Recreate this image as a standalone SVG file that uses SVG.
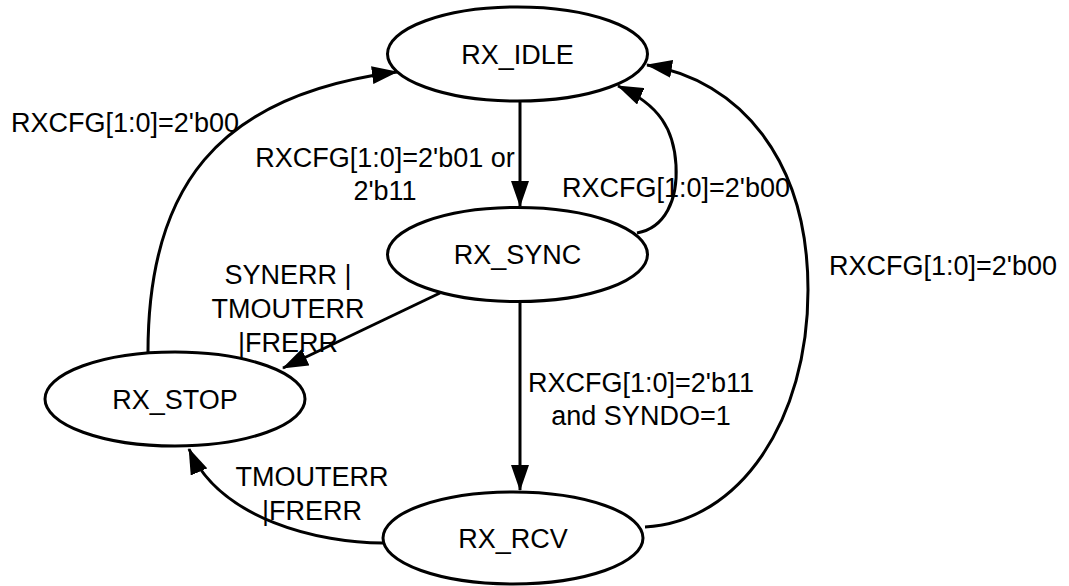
<svg xmlns="http://www.w3.org/2000/svg" width="1069" height="586" viewBox="0 0 1069 586">
  <style>
    .node ellipse { fill: #ffffff; stroke: #000000; stroke-width: 3; }
    .node text, .label { font-family: "Liberation Sans", Arial, sans-serif; font-size: 27px; fill: #000000; text-anchor: middle; }
    .edge { fill: none; stroke: #000000; stroke-width: 3; marker-end: url(#arrow); }
  </style>
  <defs>
    <marker id="arrow" markerUnits="userSpaceOnUse" markerWidth="26" markerHeight="18" viewBox="0 0 26 18" refX="25" refY="9" orient="auto">
      <path d="M0,0 L26,9 L0,18 z" fill="#000000"/>
    </marker>
  </defs>
  <rect x="0" y="0" width="1069" height="586" fill="#ffffff"/>

  <g id="connectors">
    <path class="edge" d="M520,101 L520,206"/>
    <path class="edge" d="M520,302 L520,490"/>
    <path class="edge" d="M440,293 L283,368"/>
    <path class="edge" d="M637,233 C665,228 678,200 676,165 C674,130 660,105 618,86"/>
    <path class="edge" d="M645,527 C740,522 808,420 808,290 C808,160 740,80 647,65"/>
    <path class="edge" d="M148,352 C148,190 215,95 397,72"/>
    <path class="edge" d="M383,543 C320,543 220,520 189,449"/>
  </g>

  <g id="labels">
    <text class="label" x="125" y="132">RXCFG[1:0]=2'b00</text>
    <text class="label" x="385" y="167">RXCFG[1:0]=2'b01 or</text>
    <text class="label" x="385" y="200">2'b11</text>
    <text class="label" x="676" y="197">RXCFG[1:0]=2'b00</text>
    <text class="label" x="943" y="275">RXCFG[1:0]=2'b00</text>
    <text class="label" x="288" y="284">SYNERR |</text>
    <text class="label" x="288" y="318">TMOUTERR</text>
    <text class="label" x="288" y="352">|FRERR</text>
    <text class="label" x="641" y="392">RXCFG[1:0]=2'b11</text>
    <text class="label" x="641" y="425">and SYNDO=1</text>
    <text class="label" x="312" y="486">TMOUTERR</text>
    <text class="label" x="312" y="520">|FRERR</text>
  </g>

  <g id="RX_IDLE" class="node">
    <ellipse cx="517.5" cy="54" rx="130" ry="47"/>
    <text x="517.5" y="63.5">RX_IDLE</text>
  </g>
  <g id="RX_SYNC" class="node">
    <ellipse cx="517.5" cy="254.5" rx="130" ry="47"/>
    <text x="517.5" y="264">RX_SYNC</text>
  </g>
  <g id="RX_STOP" class="node">
    <ellipse cx="175" cy="399" rx="130" ry="47"/>
    <text x="175" y="408.5">RX_STOP</text>
  </g>
  <g id="RX_RCV" class="node">
    <ellipse cx="513" cy="538" rx="130" ry="46"/>
    <text x="513" y="547.5">RX_RCV</text>
  </g>
</svg>
